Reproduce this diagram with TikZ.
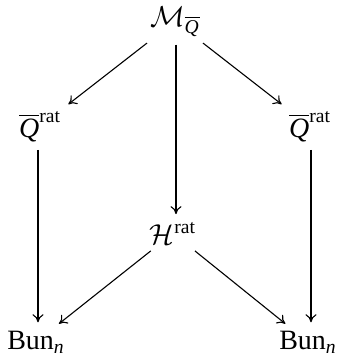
\documentclass[tikz,border=0pt]{standalone}
\usepackage{fontspec}
\setmainfont{Liberation Serif}
\usetikzlibrary{arrows.meta}
\begin{document}
\begin{tikzpicture}[x=0.5pt,y=-0.5pt,
  obj/.style={anchor=base,inner sep=2pt,font=\fontsize{14}{16}\selectfont},
  arr/.style={-{To[length=4pt,width=5.5pt]},line width=0.55pt,shorten <=2pt,shorten >=2pt}]
\useasboundingbox (0,0) rectangle (338,360);
\node[obj] (m) at (175,26) {$\mathcal{M}_{\overline{\mathit{Q}}}$};
\node[obj] (ql) at (40,137) {$\overline{\mathit{Q}}^{\mathrm{rat}}$};
\node[obj] (qr) at (310,137) {$\overline{\mathit{Q}}^{\mathrm{rat}}$};
\node[obj] (h) at (173,244) {$\mathcal{H}^{\mathrm{rat}}$};
\node[obj] (bl) at (36,349) {Bun$_{\mathit{n}}$};
\node[obj] (br) at (308,349) {Bun$_{\mathit{n}}$};
\draw[arr] (m) -- (ql);
\draw[arr] (m) -- (qr);
\draw[arr] (m.south -| 176,0) -- (h.north -| 176,0);
\draw[arr] (ql.south -| 38,0) -- (bl.north -| 38,0);
\draw[arr] (qr.south -| 311,0) -- (br.north -| 311,0);
\draw[arr] (h) -- (bl);
\draw[arr] (h) -- (br);
\end{tikzpicture}
\end{document}
